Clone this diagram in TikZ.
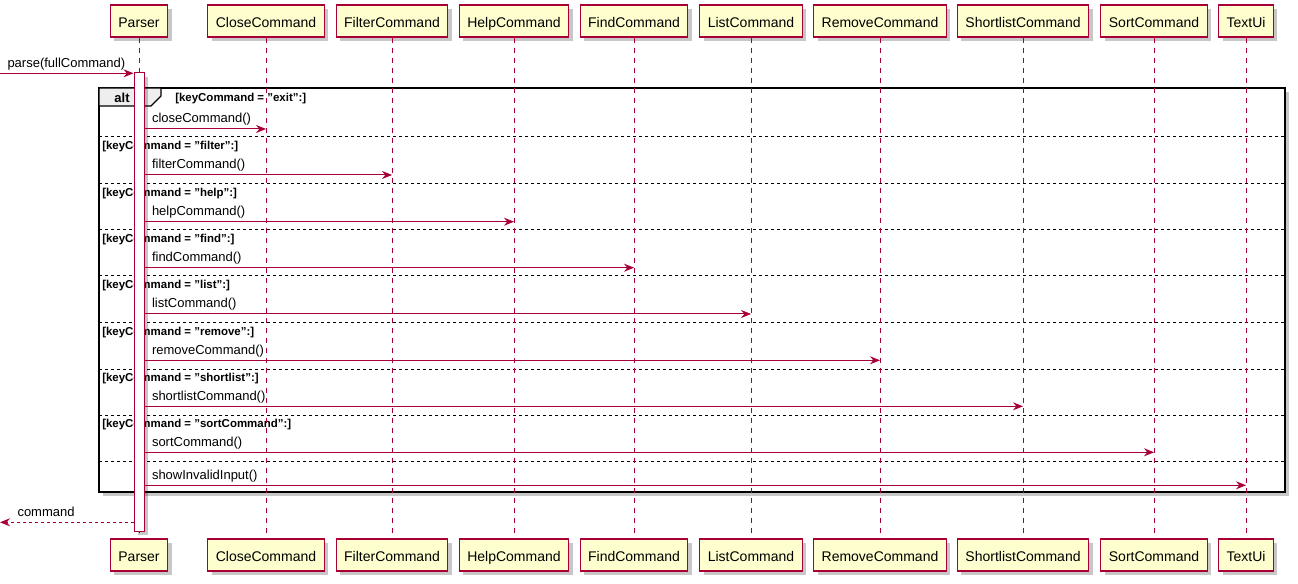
\documentclass[tikz,border=0pt]{standalone}
\usepackage{fontspec}
\setmainfont{Liberation Sans}
\usetikzlibrary{calc}
\usetikzlibrary{arrows.meta}
\usetikzlibrary{shadows}
\definecolor{umlred}{HTML}{A80036}
\definecolor{umlfill}{HTML}{FEFECE}
\definecolor{tabgray}{HTML}{EEEEEE}

\begin{document}
\begin{tikzpicture}[x=0.75pt,y=-0.75pt,
  umlshadow/.style={drop shadow={shadow xshift=3pt,shadow yshift=-3pt,fill=black,opacity=0.22}},
  participant/.style={draw=umlred,fill=umlfill,line width=0.8pt,minimum height=24pt,inner xsep=6pt,
    text height=9.6pt,text depth=0pt,font=\fontsize{10.5}{12}\selectfont,umlshadow},
  lifeline/.style={draw=umlred,line width=0.75pt,dash pattern=on 3.75pt off 3.75pt},
  actbar/.style={draw=umlred,fill=white,line width=0.75pt,minimum width=7.5pt,minimum height=343.5pt,inner sep=0pt,umlshadow},
  msg/.style={draw=umlred,line width=0.75pt,-{Stealth[length=7.5pt,width=6pt,inset=2.5pt]}},
  ret/.style={msg,dash pattern=on 2.25pt off 2.25pt},
  msglabel/.style={anchor=base west,inner sep=0pt,font=\fontsize{9.75}{11}\selectfont},
  guard/.style={anchor=base west,inner sep=0pt,font=\fontsize{8.6}{10}\selectfont\bfseries},
  sepline/.style={black,line width=0.75pt,dash pattern=on 2.25pt off 2.25pt}]
  % Boundary
  \path[use as bounding box] (0,0) rectangle (1298,584);
  % Alt frame
  \filldraw[fill=white,draw=black,line width=1.1pt,umlshadow] (99,88) rectangle (1285,492);
  \filldraw[fill=tabgray,draw=black,line width=0.8pt] (99,88) -- (161,88) -- (161,96) -- (151,106) -- (99,106) -- cycle;
  \node[font=\fontsize{9.75}{11}\selectfont\bfseries,anchor=base] (alt) at (122,102.5) {alt};
  \node[guard] (exit) at (175,101.7) {[keyCommand = "exit":]};
  \foreach \y/\g in {137/filter,183.5/help,230/find,276/list,322.7/remove,369/shortlist,415/sortCommand}
    \node[guard] (g\g) at (102,\y+12.7) {[keyCommand = "\g":]};
  \foreach \y in {137,183.5,230,276,322.7,369,415,461.3}
    \draw[sepline] (99,\y) -- (1285,\y);
  % Participants and lifelines
  \foreach \name/\text/\x in {parser/Parser/139,close/CloseCommand/266,filter/FilterCommand/392,
      help/HelpCommand/514,find/FindCommand/634,list/ListCommand/751,remove/RemoveCommand/880,
      short/ShortlistCommand/1023,sort/SortCommand/1154,textui/TextUi/1246} {
    \node[participant] (\name) at (\x,21) {\text};
    \node[participant] (\name b) at (\x,555) {\text};
    \draw[lifeline] (\name.south) -- (\name b.north);
  }
  % Activation
  \node[actbar] (bar) at (139,302) {};
  % Messages
  \coordinate (caller) at (0,73.3);
  \draw[msg] (caller) -- (bar.west |- caller) node[msglabel,pos=0,xshift=5.25pt,yshift=4.5pt] {parse(fullCommand)};
  \foreach \target/\text/\y in {close/closeCommand()/129,filter/filterCommand()/175,help/helpCommand()/221.7,
      find/findCommand()/267.7,list/listCommand()/314,remove/removeCommand()/360.3,
      short/shortlistCommand()/406.3,sort/sortCommand()/452.3,textui/showInvalidInput()/485.3}
    \draw[msg] (bar.east |- 0,\y) -- (\target |- 0,\y) node[msglabel,pos=0,xshift=5.25pt,yshift=4.5pt] {\text};
  \coordinate (back) at (0,522.3);
  \draw[ret] (bar.west |- back) -- (back) node[msglabel,pos=1,xshift=12.75pt,yshift=4.3pt] {command};
\end{tikzpicture}
\end{document}
